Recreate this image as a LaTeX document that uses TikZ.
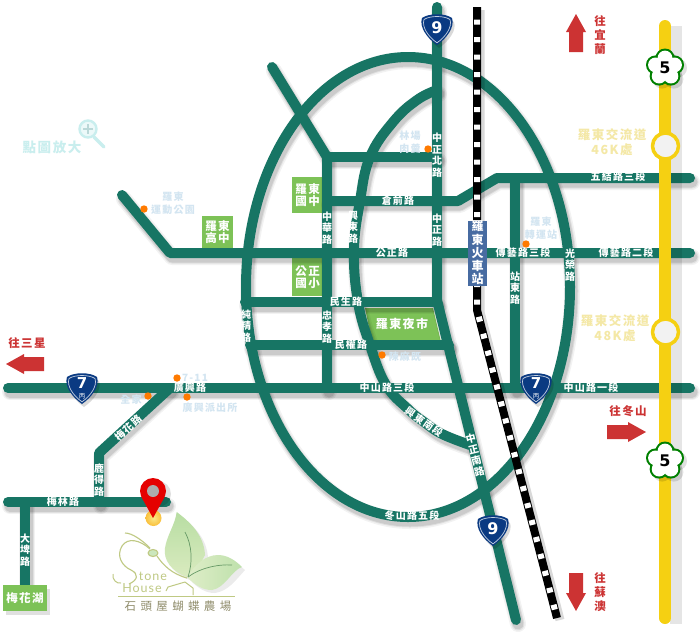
\documentclass[tikz,border=0pt]{standalone}
\usepackage{fontspec}
\usetikzlibrary{calc}
\newfontfamily\cjkr[LetterSpace=12]{Noto Sans CJK TC}
\newfontfamily\cjkw[LetterSpace=38]{Noto Sans CJK TC}
\newfontfamily\numfont{DejaVu Sans}
\newfontfamily\latinf[LetterSpace=8]{Lato}
\definecolor{road}{HTML}{177564}
\definecolor{boxg}{HTML}{7DC257}
\definecolor{redm}{HTML}{CC3333}
\definecolor{yel}{HTML}{F5D012}
\definecolor{yellab}{HTML}{F4E8A6}
\definecolor{pale}{HTML}{D3E5F1}
\definecolor{cyanl}{HTML}{C9EEEE}
\definecolor{oran}{HTML}{FF7A00}
\definecolor{navy}{HTML}{0A3A82}
\definecolor{logol}{HTML}{BFC983}
\tikzset{
  rd/.style={font=\cjkr\bfseries\fontsize{10}{11.5}\selectfont,text=white,align=center,inner sep=0},
  boxlab/.style={font=\cjkr\bfseries\fontsize{11.5}{12.5}\selectfont,text=white,align=center,inner sep=0},
  lightlab/.style={font=\cjkr\bfseries\fontsize{10}{12.5}\selectfont,text=pale,align=center,inner sep=0},
  yellowlab/.style={font=\cjkr\bfseries\fontsize{12.5}{14.5}\selectfont,text=yellab,align=center,inner sep=0},
  redlab/.style={font=\cjkr\bfseries\fontsize{11.5}{14}\selectfont,text=redm,align=center,inner sep=0},
  gbox/.style={fill=boxg,draw=none},
  spot/.style={fill=oran,draw=none},
  marrow/.style={fill=redm,draw=none},
  inter/.style={circle,minimum size=26,inner sep=0,fill=white!90!gray,draw=yel,line width=3.5},
}
\newcommand{\roadset}[1]{%
  \draw[#1] (272,67) -- (327,157) -- (327,388);
  \draw[#1] (327,157) -- (437,157);
  \draw[#1] (327,201) -- (458,201) -- (497,178) -- (690,178);
  \draw[#1] (515,178) -- (515,388);
  \draw[#1] (122,195) -- (170,253) -- (690,253);
  \draw[#1] (245,302) -- (437,302);
  \draw[#1] (250,345) -- (449,345);
  \draw[#1] (8,388) -- (690,388);
  \draw[#1] (437,7) -- (437,300) -- (516,620);
  \draw[#1] (408,287) ellipse [x radius=162,y radius=230];
  \draw[#1] plot[smooth,tension=.7] coordinates {(437,90) (417,100) (393,122) (370,157) (360,201) (354,250) (358,302) (370,345) (386,385) (408,409) (424,422) (442,434) (470,445)};
  \draw[#1] (170,388) -- (99,453) -- (99,502);
  \draw[#1] (8,502) -- (166,502);
  \draw[#1] (25,502) -- (25,590);
}
\newcommand{\shield}[4]{% name, x, y, main text
  \begin{scope}[shift={(#2,#3)}]
    \fill[black,opacity=.15] (-13,-8) .. controls (-8,-12) and (12,-12) .. (17,-7) .. controls (20,1) and (12,12) .. (2,19) .. controls (-8,12) and (-15,1) .. (-13,-8) -- cycle;
    \fill[navy] (-15,-11) .. controls (-8,-16) and (8,-16) .. (15,-11) .. controls (18,-2) and (10,9) .. (0,16) .. controls (-10,9) and (-18,-2) .. (-15,-11) -- cycle;
    \draw[white!75!navy,line width=.7] (-13,-9.5) .. controls (-7,-13.5) and (7,-13.5) .. (13,-9.5) .. controls (15.5,-2) and (8.5,8) .. (0,13.8) .. controls (-8.5,8) and (-15.5,-2) .. (-13,-9.5) -- cycle;
    #4
  \end{scope}}
\newcommand{\flower}[3]{% name, x, y
  \begin{scope}[shift={(#2,#3)}]
    \foreach \a in {90,162,234,306,18} {\fill[black,opacity=.12] ($(3,3)+(\a:-10)$) circle (9.5);}
    \foreach \a in {90,162,234,306,18} {\fill[green!50!black] (\a:-10) circle (9.5);}
    \foreach \a in {90,162,234,306,18} {\fill[white] (\a:-10) circle (7.4);}
    \fill[white] (0,0) circle (10);
    \node[inner sep=0,font=\numfont\bfseries\fontsize{16}{16}\selectfont,text=black] (#1) at (0,0) {5};
  \end{scope}}
\begin{document}
\begin{tikzpicture}[x=1pt,y=-1pt,line join=round]
\useasboundingbox (0,0) rectangle (700,633);
\fill[white] (0,0) rectangle (700,633);

% zoom hint
\node[font=\cjkr\bfseries\fontsize{13.5}{14}\selectfont,text=cyanl,inner sep=0] (zoomhint) at (52,147) {點圖放大};
\draw[cyanl,line width=3.2,line cap=round] (94,137) -- (104,147);
\draw[cyanl,line width=2.4,fill=cyanl!35] (88,129) circle (8.5);
\draw[cyanl!80!gray,line width=1.2] (83,129) -- (93,129) (88,124) -- (88,134);

% green blocks under the road layer
\fill[gbox] (202,216) rectangle (233,250);
\fill[gbox] (292,177) rectangle (324,213);
\fill[gbox] (292,256) rectangle (324,296);
\fill[gbox] (365,308) -- (433,308) -- (441,342) -- (372,342) -- cycle;

% road shadows and roads
\begin{scope}[shift={(2,4)}]
  \roadset{black,opacity=.05,line width=16,line cap=round}
  \roadset{black,opacity=.07,line width=13,line cap=round}
  \roadset{black,opacity=.09,line width=11,line cap=round}
\end{scope}
\roadset{road,line width=10,line cap=round}

% freeway
\fill[black,opacity=.1] (670,26) rectangle (682,624);
\draw[yel,line width=12,line cap=round] (665,26) -- (665,618);
\node[inter] (ic46) at (665.5,146) {};
\node[inter] (ic48) at (665.5,332) {};

% railway
\draw[black,opacity=.15,line width=9] (480,10) -- (480,312) -- (560,620);
\draw[black,line width=8] (477,7) -- (477,310) -- (557,618);
\draw[white,line width=6,dash pattern=on 5 off 12.5,dash phase=5] (477,7) -- (477,310) -- (557,618);
\fill[navy!75!white] (468,221) rectangle (487,286);

% shields
\shield{s7a}{82}{388}{\node[inner sep=0,font=\numfont\bfseries\fontsize{15}{15}\selectfont,text=white] (s7atext) at (0,-5) {7};\node[inner sep=0,font=\cjkr\fontsize{6.5}{6.5}\selectfont,text=white] (s7asub) at (0,8.5) {丙};}
\shield{s7b}{536}{388}{\node[inner sep=0,font=\numfont\bfseries\fontsize{15}{15}\selectfont,text=white] (s7btext) at (0,-5) {7};\node[inner sep=0,font=\cjkr\fontsize{6.5}{6.5}\selectfont,text=white] (s7bsub) at (0,8.5) {丙};}
\shield{s9a}{437}{29}{\node[inner sep=0,font=\numfont\bfseries\fontsize{16}{16}\selectfont,text=white] (s9atext) at (0,-1) {9};}
\shield{s9b}{493}{530}{\node[inner sep=0,font=\numfont\bfseries\fontsize{16}{16}\selectfont,text=white] (s9btext) at (0,-1) {9};}
\flower{f5a}{665}{68}
\flower{f5b}{665}{461}

% direction arrows
\fill[marrow] (576,14) -- (586,32) -- (583,32) -- (583,52) -- (569,52) -- (569,32) -- (566,32) -- cycle;
\fill[marrow] (576,611) -- (586,593) -- (583,593) -- (583,573) -- (569,573) -- (569,593) -- (566,593) -- cycle;
\fill[marrow] (646,432) -- (628,422) -- (628,425) -- (607,425) -- (607,439) -- (628,439) -- (628,442) -- cycle;
\fill[marrow] (6,364) -- (24,354) -- (24,357) -- (44,357) -- (44,371) -- (24,371) -- (24,374) -- cycle;
\node[redlab] (toyilan) at (600,35) {往\\宜\\蘭};
\node[redlab] (tosuao) at (600,592) {往\\蘇\\澳};
\node[redlab] (todongshan) at (628,411) {往冬山};
\node[redlab] (tosanxing) at (27,343) {往三星};

% green block labels
\node[boxlab] (lb1) at (217.5,232) {羅\hspace{1.5pt}東\\高\hspace{1.5pt}中};
\node[boxlab] (lb2) at (307.5,195) {羅\hspace{1.5pt}東\\國\hspace{1.5pt}中};
\node[boxlab] (lb3) at (307.5,277) {公\hspace{1.5pt}正\\國\hspace{1.5pt}小};
\node[boxlab,font=\cjkr\bfseries\fontsize{12}{12}\selectfont] (lb4) at (402,324) {羅東夜市};
\node[font=\cjkr\bfseries\fontsize{12}{13.2}\selectfont,text=white,align=center,inner sep=0] (station) at (477.5,253) {羅\\東\\火\\車\\站};

% road labels
\node[rd] (r1) at (437,155) {中\\正\\北\\路};
\node[rd] (r2) at (398,201) {倉前路};
\node[rd] (r3) at (327,228) {中\\華\\路};
\node[rd] (r4) at (353,227) {興\\東\\路};
\node[rd] (r5) at (437,230) {中\\正\\路};
\node[rd] (r6) at (392,253) {公正路};
\node[rd] (r7) at (618,177) {五結路三段};
\node[rd] (r8) at (523,253) {傳藝路三段};
\node[rd] (r9) at (626,253) {傳藝路二段};
\node[rd] (r10) at (570,265) {光\\榮\\路};
\node[rd] (r11) at (515,288) {站\\東\\路};
\node[rd] (r12) at (246,326) {純\\精\\路};
\node[rd] (r13) at (346,302) {民生路};
\node[rd] (r14) at (327,327) {忠\\孝\\路};
\node[rd] (r15) at (351,345) {民權路};
\node[rd] (r16) at (387,388) {中山路三段};
\node[rd] (r17) at (591,388) {中山路一段};
\node[rd] (r18) at (190,388) {廣興路};
\node[rd] (r19) at (63,502) {梅林路};
\node[rd] (r20) at (99,480) {鹿\\得\\路};
\node[rd,rotate=43] (r21) at (128,428) {梅花路};
\node[rd] (r22) at (25,550) {大\\埤\\路};
\node[rd,rotate=-35] (r23) at (424,422) {興東南段};
\node[rd,rotate=14] (r24) at (475,455) {中\\正\\南\\路};
\node[rd] (r25) at (412,516) {冬山路五段};

% landmarks
\fill[spot] (144,209) circle (3.7);
\node[lightlab] (p1) at (173,203) {羅東\\運動公園};
\fill[spot] (428,149) circle (3.7);
\node[lightlab] (p2) at (410,142) {林場\\肉羹};
\fill[spot] (526,244) circle (3.7);
\node[lightlab] (p3) at (541,228) {羅東\\轉運站};
\fill[spot] (177,378) circle (3.7);
\node[lightlab] (p4) at (195,378) {7-11};
\fill[spot] (148,396) circle (3.7);
\node[lightlab] (p5) at (131,400) {全家};
\fill[spot] (187,397) circle (3.7);
\node[lightlab] (p6) at (210,408) {廣興派出所};
\fill[spot] (382,355) circle (3.7);
\node[lightlab] (p7) at (405,357) {陳麻既};

% interchange labels
\node[yellowlab] (ic46lab) at (612,142) {羅東交流道\\46K處};
\node[yellowlab] (ic48lab) at (615,328) {羅東交流道\\48K處};

% lake box
\fill[black,opacity=.12] (6,589) rectangle (50,615);
\fill[gbox] (3,585) rectangle (47,611);
\node[font=\cjkr\bfseries\fontsize{11.5}{12}\selectfont,text=white,inner sep=0] (lake) at (25,598) {梅花湖};

% pin
\fill[black,opacity=.12] (158,494) circle (13);
\shade[inner color=yel!50!white,outer color=yel!60!orange!80!white] (153.5,518) circle (8);
\fill[red!90!black] (153,518) -- (141.6,497.3) -- (164.4,497.3) -- cycle;
\fill[red!90!black] (153,491) circle (13);
\fill[gray!65] (153,491) circle (6);

% logo
\begin{scope}[shift={(3,3)}]
  \fill[black,opacity=.08] (176.7,512) .. controls (190,522) and (204,535) .. (205,555) .. controls (220,553) and (232,558) .. (242,567) .. controls (232,578) and (225,588) .. (212,590) .. controls (202,590) and (195,585) .. (187,577) .. controls (172,572) and (163,560) .. (165,548) .. controls (167,535) and (175,525) .. (176.7,512) -- cycle;
\end{scope}
\shade[top color=boxg!55!white,bottom color=yel!20!boxg!35!white] (176.7,512) .. controls (190,522) and (204,535) .. (205,555) .. controls (200,565) and (195,572) .. (187,577) .. controls (172,572) and (163,560) .. (165,548) .. controls (167,535) and (175,525) .. (176.7,512) -- cycle;
\shade[right color=boxg!50!white,left color=yel!20!boxg!30!white] (187,577) .. controls (195,565) and (205,555) .. (218,555) .. controls (228,555) and (236,561) .. (242,567) .. controls (232,570) and (225,588) .. (212,590) .. controls (202,590) and (195,585) .. (187,577) -- cycle;
\draw[gray!80!green,line width=.7] (185,532) .. controls (192,545) and (193,562) .. (188,577);
\draw[gray!80!green,line width=.7] (188,577) .. controls (200,568) and (218,564) .. (232,565);
\draw[logol,line width=1.1,fill=boxg!40!white] (153,553) ellipse [x radius=5,y radius=3.5];
\draw[logol,line width=1.1] (157,556) .. controls (163,565) and (172,574) .. (187,578);
\draw[logol,line width=1.1] (150,548) .. controls (142,540) and (132,533) .. (125,533);
\draw[logol,line width=1.1] (150,549) .. controls (140,540) and (128,537) .. (122,546) .. controls (116,556) and (122,566) .. (131,570) .. controls (139,574) and (138,580) .. (129,584);
\draw[logol,line width=1] (113,574) .. controls (112,580) and (117,584) .. (121,583);
\draw[logol,line width=.9] (118,596) -- (235,596);
\draw[logol,line width=1] (166,591) -- (168,587) -- (185,582) -- (193,588) -- (193,595);
\node[font=\latinf\fontsize{12.5}{12.5}\selectfont,text=logol,inner sep=0] (stone) at (153,576) {tone};
\node[font=\latinf\fontsize{12.5}{12.5}\selectfont,text=logol,inner sep=0] (house) at (142,588) {House};
\node[font=\cjkw\fontsize{11.5}{12}\selectfont,text=gray!75!olive,inner sep=0] (farm) at (178,606) {石頭屋蝴蝶農場};
\end{tikzpicture}
\end{document}
